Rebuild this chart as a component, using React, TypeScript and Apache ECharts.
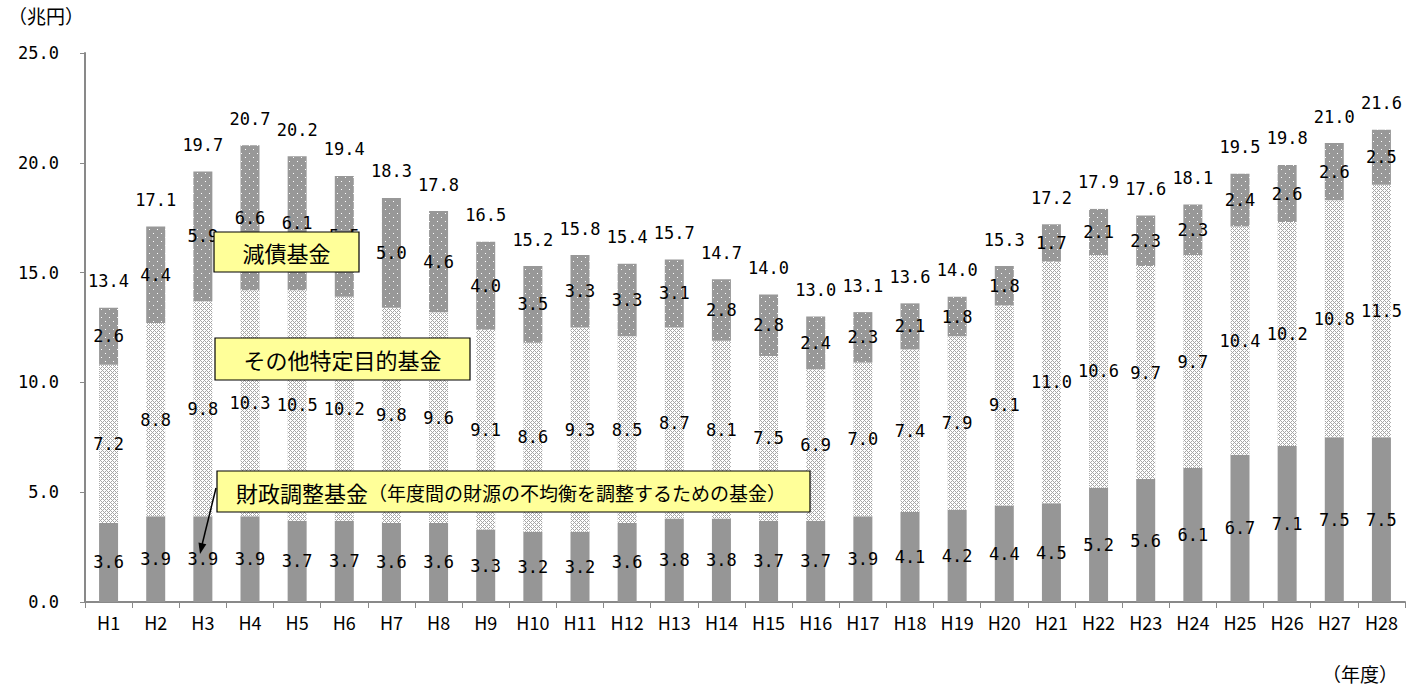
import React, { useEffect, useRef } from "react";
import * as echarts from "echarts";

const categories = [
  "H1", "H2", "H3", "H4", "H5", "H6", "H7", "H8", "H9", "H10",
  "H11", "H12", "H13", "H14", "H15", "H16", "H17", "H18", "H19", "H20",
  "H21", "H22", "H23", "H24", "H25", "H26", "H27", "H28",
];
// 財政調整基金
const fiscalAdjustment = [
  3.6, 3.9, 3.9, 3.9, 3.7, 3.7, 3.6, 3.6, 3.3, 3.2,
  3.2, 3.6, 3.8, 3.8, 3.7, 3.7, 3.9, 4.1, 4.2, 4.4,
  4.5, 5.2, 5.6, 6.1, 6.7, 7.1, 7.5, 7.5,
];
// その他特定目的基金
const otherSpecific = [
  7.2, 8.8, 9.8, 10.3, 10.5, 10.2, 9.8, 9.6, 9.1, 8.6,
  9.3, 8.5, 8.7, 8.1, 7.5, 6.9, 7.0, 7.4, 7.9, 9.1,
  11.0, 10.6, 9.7, 9.7, 10.4, 10.2, 10.8, 11.5,
];
// 減債基金
const debtReduction = [
  2.6, 4.4, 5.9, 6.6, 6.1, 5.5, 5.0, 4.6, 4.0, 3.5,
  3.3, 3.3, 3.1, 2.8, 2.8, 2.4, 2.3, 2.1, 1.8, 1.8,
  1.7, 2.1, 2.3, 2.3, 2.4, 2.6, 2.6, 2.5,
];
const totals = [
  13.4, 17.1, 19.7, 20.7, 20.2, 19.4, 18.3, 17.8, 16.5, 15.2,
  15.8, 15.4, 15.7, 14.7, 14.0, 13.0, 13.1, 13.6, 14.0, 15.3,
  17.2, 17.9, 17.6, 18.1, 19.5, 19.8, 21.0, 21.6,
];
const yTicks = [0, 5, 10, 15, 20, 25];

const NUM_FONT = "'DejaVu Sans Mono', monospace";
const JP_FONT = "'Noto Sans CJK JP', sans-serif";

function makePattern(size: number, bg: string, fg: string, pts: number[][]) {
  const c = document.createElement("canvas");
  c.width = size;
  c.height = size;
  const ctx = c.getContext("2d")!;
  ctx.fillStyle = bg;
  ctx.fillRect(0, 0, size, size);
  ctx.fillStyle = fg;
  pts.forEach(([x, y]) => ctx.fillRect(x, y, 1, 1));
  return c;
}

export default function App() {
  const ref = useRef<HTMLDivElement>(null);
  useEffect(() => {
    if (!ref.current) return;
    const chart = echarts.init(ref.current, undefined, { renderer: "svg" });

    const midPts: number[][] = [];
    for (let x = 0; x < 4; x++)
      for (let y = 0; y < 4; y++)
        if ((x + y) % 4 === 0 || (x - y + 4) % 4 === 0) midPts.push([x, y]);
    const midCanvas = makePattern(4, "#ffffff", "#a6a6a6", midPts);
    const topCanvas = makePattern(8, "#989898", "#ffffff", [[1, 1], [5, 5]]);

    const insideLabel = {
      show: true,
      position: "inside" as const,
      color: "#000",
      fontFamily: NUM_FONT,
      fontSize: 17,
      formatter: (p: any) => Number(p.value).toFixed(1),
    };

    const boxStyle = { fill: "#ffff99", stroke: "#000", lineWidth: 1.2 };
    const Z = 100;

    chart.setOption({
      animation: false,
      backgroundColor: "#fff",
      grid: { left: 85, right: 7, top: 53, bottom: 86, containLabel: false },
      xAxis: {
        type: "category",
        data: categories,
        boundaryGap: true,
        axisLine: { show: true, lineStyle: { color: "#898989", width: 2 } },
        axisTick: { show: true, length: 6, lineStyle: { color: "#898989", width: 1 } },
        axisLabel: { color: "#000", fontFamily: JP_FONT, fontSize: 18, margin: 11 },
      },
      yAxis: {
        type: "value",
        min: yTicks[0],
        max: yTicks[yTicks.length - 1],
        interval: 5,
        axisLine: { show: true, lineStyle: { color: "#898989", width: 2 } },
        axisTick: { show: true, length: 5, lineStyle: { color: "#898989", width: 1 } },
        splitLine: { show: false },
        axisLabel: {
          color: "#000",
          fontFamily: NUM_FONT,
          fontSize: 17,
          margin: 26,
          formatter: (v: number) => v.toFixed(1),
        },
      },
      series: [
        {
          name: "財政調整基金",
          type: "bar",
          stack: "total",
          data: fiscalAdjustment,
          barWidth: 19,
          itemStyle: { color: "#969696" },
          label: insideLabel,
        },
        {
          name: "その他特定目的基金",
          type: "bar",
          stack: "total",
          data: otherSpecific,
          barWidth: 19,
          itemStyle: { color: { image: midCanvas, repeat: "repeat" } as any },
          label: insideLabel,
        },
        {
          name: "減債基金",
          type: "bar",
          stack: "total",
          data: debtReduction,
          barWidth: 19,
          itemStyle: { color: { image: topCanvas, repeat: "repeat" } as any },
          label: insideLabel,
        },
        {
          name: "合計",
          type: "bar",
          stack: "total",
          data: totals.map(() => 0),
          barWidth: 19,
          itemStyle: { color: "rgba(0,0,0,0)" },
          label: {
            show: true,
            position: "top",
            distance: 18,
            color: "#000",
            fontFamily: NUM_FONT,
            fontSize: 17,
            formatter: (p: any) => totals[p.dataIndex].toFixed(1),
          },
        },
      ],
      graphic: [
        {
          type: "text",
          left: 8,
          top: 6,
          style: { text: "（兆円）", font: `19px ${JP_FONT}`, fill: "#000" },
        },
        {
          type: "text",
          left: 1322,
          top: 664,
          style: { text: "（年度）", font: `19px ${JP_FONT}`, fill: "#000" },
        },
        {
          type: "rect",
          z: Z,
          shape: { x: 214, y: 232, width: 145, height: 40 },
          style: boxStyle,
        },
        {
          type: "text",
          z: Z + 1,
          x: 286.5,
          y: 252,
          style: {
            text: "減債基金",
            font: `22px ${JP_FONT}`,
            fill: "#000",
            align: "center",
            verticalAlign: "middle",
          },
        },
        {
          type: "rect",
          z: Z,
          shape: { x: 215, y: 338, width: 255, height: 42 },
          style: boxStyle,
        },
        {
          type: "text",
          z: Z + 1,
          x: 342.5,
          y: 359,
          style: {
            text: "その他特定目的基金",
            font: `22px ${JP_FONT}`,
            fill: "#000",
            align: "center",
            verticalAlign: "middle",
          },
        },
        {
          type: "rect",
          z: Z,
          shape: { x: 217, y: 471, width: 593, height: 41 },
          style: boxStyle,
        },
        {
          type: "text",
          z: Z + 1,
          x: 236,
          y: 492,
          style: {
            text: "{a|財政調整基金}{b|（年度間の財源の不均衡を調整するための基金）}",
            fill: "#000",
            verticalAlign: "middle",
            rich: {
              a: { fontFamily: JP_FONT, fontSize: 22, fill: "#000" },
              b: { fontFamily: JP_FONT, fontSize: 19, fill: "#000" },
            },
          } as any,
        },
        {
          type: "line",
          z: Z,
          shape: { x1: 216, y1: 488, x2: 201.5, y2: 547 },
          style: { stroke: "#000", lineWidth: 1.5 },
        },
        {
          type: "polygon",
          z: Z,
          shape: { points: [[200, 554], [206.3, 544.2], [198.5, 542.4]] },
          style: { fill: "#000" },
        },
      ],
    });
    return () => chart.dispose();
  }, []);
  return (
    <div
      ref={ref}
      style={{ position: "fixed", left: 0, top: 0, width: 1412, height: 688 }}
    />
  );
}
